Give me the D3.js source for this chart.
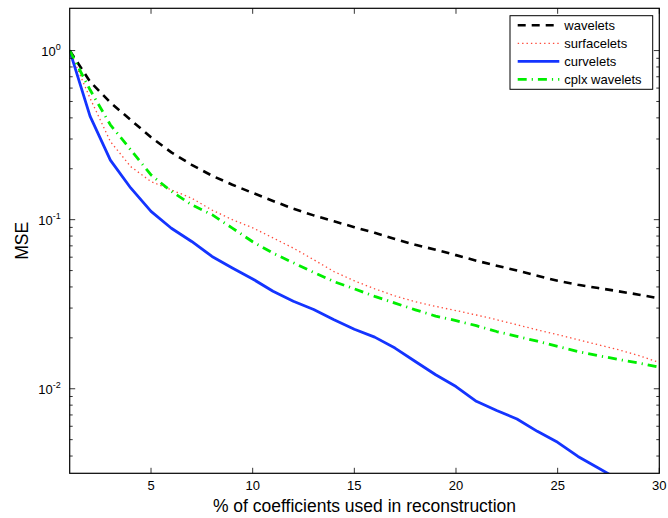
<!DOCTYPE html>
<html>
<head>
<meta charset="utf-8">
<script src="https://cdn.jsdelivr.net/npm/d3@7"></script>
<style>
  body { margin: 0; background: #fff; }
  svg { display: block; }
  text { font-family: "Liberation Sans", Arial, Helvetica, sans-serif; fill: #000; }
</style>
</head>
<body>
<svg id="chart" width="668" height="518"></svg>
<script>
// ---- data ----
const percent = [1,2,3,4,5,6,7,8,9,10,11,12,13,14,15,16,17,18,19,20,21,22,23,24,25,26,27,28,29,30];
const wavelets = [1.0,0.656,0.493,0.389,0.307,0.25,0.211,0.182,0.161,0.144,0.129,0.116,0.106,0.0978,0.0903,0.0836,0.0768,0.071,0.0664,0.0617,0.0572,0.0534,0.0501,0.0466,0.0435,0.0412,0.0394,0.0377,0.036,0.0342];
const surfacelets = [1.0,0.523,0.29,0.206,0.168,0.15,0.134,0.114,0.1,0.0895,0.078,0.0679,0.058,0.0493,0.0435,0.039,0.0354,0.0327,0.0307,0.029,0.0273,0.0256,0.0239,0.0223,0.0209,0.0195,0.0182,0.017,0.0157,0.0143];
const curvelets = [1.0,0.41,0.225,0.154,0.112,0.089,0.0743,0.0606,0.0518,0.0446,0.0377,0.0329,0.0294,0.0256,0.0225,0.0202,0.0174,0.0145,0.0121,0.0103,0.00843,0.00743,0.00663,0.0056,0.00482,0.00398,0.0034,0.0029,0.0025,0.0021];
const cplxWavelets = [1.0,0.586,0.364,0.259,0.184,0.147,0.1225,0.107,0.0892,0.074,0.0634,0.0556,0.0488,0.043,0.039,0.0352,0.0321,0.0293,0.0269,0.0253,0.0236,0.0218,0.0204,0.0191,0.0178,0.0166,0.0157,0.0149,0.0142,0.0134];
const seriesNames = ["wavelets","surfacelets","curvelets","cplx wavelets"];
const xTicks = [5,10,15,20,25,30];
const yMajorExp = [0,-1,-2];

// ---- layout ----
const svg = d3.select("#chart");
const L = 69.7, T = 8.3, R = 659.3, B = 473.3;
const x = d3.scaleLinear().domain([1,30]).range([L,R]);
const y = d3.scaleLog().domain([Math.pow(10,-2.5), Math.pow(10,0.25)]).range([B,T]);

const styles = [
  {color:"#000000", width:2.6, dash:"8,6"},
  {color:"#ff4a3a", width:1.3, dash:"1.4,3"},
  {color:"#1434ff", width:2.8, dash:null},
  {color:"#00ee00", width:2.8, dash:"9,5,1.2,5"}
];
const allSeries = [wavelets, surfacelets, curvelets, cplxWavelets];

svg.append("defs").append("clipPath").attr("id","clip")
  .append("rect").attr("x",L).attr("y",T).attr("width",R-L).attr("height",B-T);

svg.append("rect").attr("x",L).attr("y",T).attr("width",R-L).attr("height",B-T).attr("fill","#fff");

// lines
const line = d3.line().x((d,i)=>x(percent[i])).y(d=>y(d));
const g = svg.append("g").attr("clip-path","url(#clip)");
allSeries.forEach((s,k)=>{
  const st = styles[k];
  g.append("path").datum(s).attr("d",line)
    .attr("fill","none").attr("stroke",st.color).attr("stroke-width",st.width)
    .attr("stroke-linejoin","round")
    .attr("stroke-dasharray",st.dash);
});

// axes (ticks inside, on all four sides)
const axG = svg.append("g");
const tickLenMaj = 5.5, tickLenMin = 3;
xTicks.forEach(t=>{
  const xx = x(t);
  axG.append("line").attr("x1",xx).attr("x2",xx).attr("y1",B).attr("y2",B-tickLenMaj).attr("stroke","#000").attr("stroke-width",0.8);
  axG.append("line").attr("x1",xx).attr("x2",xx).attr("y1",T).attr("y2",T+tickLenMaj).attr("stroke","#000").attr("stroke-width",0.8);
  axG.append("text").attr("x",xx).attr("y",B+17).attr("text-anchor","middle").attr("font-size",13).text(t);
});
const yMin = Math.pow(10,-2.5), yMax = Math.pow(10,0.25);
for (let e=-3; e<=0; e++) {
  for (let m=1; m<=9; m++) {
    const v = m*Math.pow(10,e);
    if (v < yMin || v > yMax) continue;
    const yy = y(v);
    const len = m===1 ? tickLenMaj : tickLenMin;
    axG.append("line").attr("x1",L).attr("x2",L+len).attr("y1",yy).attr("y2",yy).attr("stroke","#000").attr("stroke-width",0.8);
    axG.append("line").attr("x1",R).attr("x2",R-len).attr("y1",yy).attr("y2",yy).attr("stroke","#000").attr("stroke-width",0.8);
  }
}
yMajorExp.forEach(e=>{
  const yy = y(Math.pow(10,e));
  const t = axG.append("text").attr("x",L-9).attr("y",yy+5).attr("text-anchor","end").attr("font-size",13);
  t.append("tspan").text("10");
  t.append("tspan").attr("dy",-6).attr("font-size",9).text(e);
});
svg.append("rect").attr("x",L).attr("y",T).attr("width",R-L).attr("height",B-T)
  .attr("fill","none").attr("stroke","#000").attr("stroke-width",1.2);

// axis labels
svg.append("text").attr("x",(L+R)/2).attr("y",512).attr("text-anchor","middle").attr("font-size",17.5)
  .text("% of coefficients used in reconstruction");
svg.append("text").attr("transform",`translate(28,${(T+B)/2}) rotate(-90)`).attr("text-anchor","middle").attr("font-size",17.5)
  .text("MSE");

// legend
const lg = svg.append("g");
lg.append("rect").attr("x",510).attr("y",15.7).attr("width",142.7).attr("height",73.6)
  .attr("fill","#fff").attr("stroke","#000").attr("stroke-width",1);
seriesNames.forEach((n,k)=>{
  const yy = 25.3 + k*18;
  const st = styles[k];
  lg.append("line").attr("x1",517.7).attr("x2",559.3).attr("y1",yy).attr("y2",yy)
    .attr("stroke",st.color).attr("stroke-width",st.width).attr("stroke-dasharray",st.dash);
  lg.append("text").attr("x",564.3).attr("y",yy+4.5).attr("font-size",13).text(n);
});
</script>
</body>
</html>
